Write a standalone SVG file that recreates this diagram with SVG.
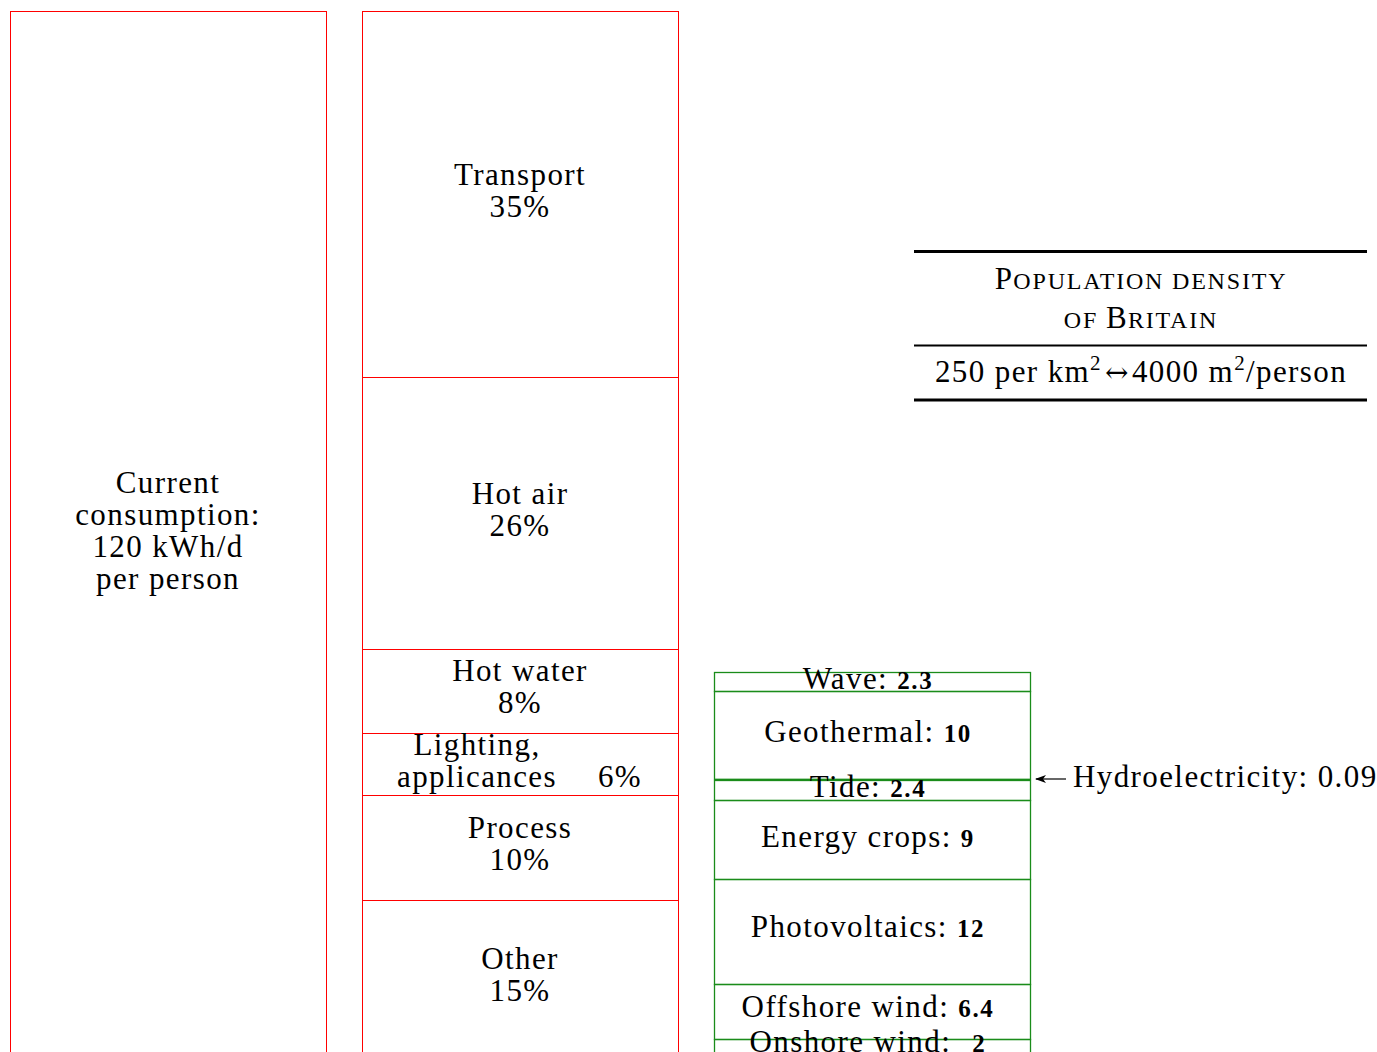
<svg xmlns="http://www.w3.org/2000/svg" width="1377" height="1052" viewBox="0 0 1377 1052">
<defs>
<marker id="ah" markerWidth="12" markerHeight="8" refX="10" refY="4" orient="auto" markerUnits="userSpaceOnUse">
<path d="M0,0 L11,4 L0,8 L3,4 Z" fill="#000"/>
</marker>
<style>
text{font-family:"Liberation Serif","DejaVu Serif",serif;font-size:31px;letter-spacing:1.4px;fill:#000;text-anchor:middle}
.b{font-weight:bold;font-size:25px;letter-spacing:1.6px}
.r{fill:none;stroke:#ff0000;stroke-width:1}
.g{fill:none;stroke:#1a8c1a;stroke-width:1.3}
.sc{font-size:24px;letter-spacing:1.8px}
.cap{font-size:31px}
</style>
</defs>
<rect width="1377" height="1052" fill="#fff"/>

<g id="consumption">
<rect class="r" x="10.5" y="11.5" width="316" height="1100"/>
<text x="168" y="493">Current</text>
<text x="168" y="525">consumption:</text>
<text x="168" y="557">120 kWh/d</text>
<text x="168" y="589">per person</text>
</g>

<g id="transport">
<rect class="r" x="362.5" y="11.5" width="316" height="366"/>
<text x="520" y="185">Transport</text>
<text x="520" y="217">35%</text>
</g>
<g id="hotair">
<rect class="r" x="362.5" y="377.5" width="316" height="272"/>
<text x="520" y="504">Hot air</text>
<text x="520" y="536">26%</text>
</g>
<g id="hotwater">
<rect class="r" x="362.5" y="649.5" width="316" height="84"/>
<text x="520" y="681">Hot water</text>
<text x="520" y="713">8%</text>
</g>
<g id="lighting">
<rect class="r" x="362.5" y="733.5" width="316" height="62"/>
<text x="477" y="755">Lighting,</text>
<text x="477" y="787">applicances</text>
<text x="620" y="787">6%</text>
</g>
<g id="process">
<rect class="r" x="362.5" y="795.5" width="316" height="105"/>
<text x="520" y="838">Process</text>
<text x="520" y="870">10%</text>
</g>
<g id="other">
<rect class="r" x="362.5" y="900.5" width="316" height="200"/>
<text x="520" y="969">Other</text>
<text x="520" y="1001">15%</text>
</g>

<g id="wave">
<rect class="g" x="714.5" y="672.5" width="316" height="19"/>
<text x="868" y="689">Wave: <tspan class="b">2.3</tspan></text>
</g>
<g id="geothermal">
<rect class="g" x="714.5" y="691.5" width="316" height="88"/>
<text x="868" y="742">Geothermal: <tspan class="b">10</tspan></text>
</g>
<g id="hydro">
<line class="g" x1="714.5" y1="779.5" x2="1030.5" y2="779.5"/>
</g>
<g id="tide">
<rect class="g" x="714.5" y="780.5" width="316" height="20"/>
<text x="868" y="797">Tide: <tspan class="b">2.4</tspan></text>
</g>
<g id="energycrops">
<rect class="g" x="714.5" y="800.5" width="316" height="79"/>
<text x="868" y="847">Energy crops: <tspan class="b">9</tspan></text>
</g>
<g id="photovoltaics">
<rect class="g" x="714.5" y="879.5" width="316" height="105"/>
<text x="868" y="937">Photovoltaics: <tspan class="b">12</tspan></text>
</g>
<g id="offshore">
<rect class="g" x="714.5" y="984.5" width="316" height="55"/>
<text x="868" y="1017">Offshore wind: <tspan class="b">6.4</tspan></text>
</g>
<g id="onshore">
<rect class="g" x="714.5" y="1039.5" width="316" height="40"/>
<text x="868" y="1052">Onshore wind: <tspan class="b" dx="12">2</tspan></text>
</g>

<g id="hydrolabel">
<text x="1073" y="787" style="text-anchor:start">Hydroelectricity: 0.09</text>
</g>

<g id="connectors">
<line x1="1066" y1="779" x2="1036" y2="779" stroke="#000" stroke-width="1.2" marker-end="url(#ah)"/>
</g>

<g id="table">
<line x1="914" y1="251.5" x2="1367" y2="251.5" stroke="#000" stroke-width="3"/>
<text x="1141" y="289"><tspan class="cap">P</tspan><tspan class="sc">OPULATION DENSITY</tspan></text>
<text x="1141" y="328"><tspan class="sc">OF </tspan><tspan class="cap">B</tspan><tspan class="sc">RITAIN</tspan></text>
<line x1="914" y1="345.5" x2="1367" y2="345.5" stroke="#000" stroke-width="2"/>
<text x="1141" y="382">250 per km<tspan dy="-12" font-size="21">2</tspan><tspan dy="12" dx="3" font-family="DejaVu Serif" font-size="28">↔</tspan><tspan dx="2">4000 m</tspan><tspan dy="-12" font-size="21">2</tspan><tspan dy="12">/person</tspan></text>
<line x1="914" y1="400" x2="1367" y2="400" stroke="#000" stroke-width="3"/>
</g>
</svg>
